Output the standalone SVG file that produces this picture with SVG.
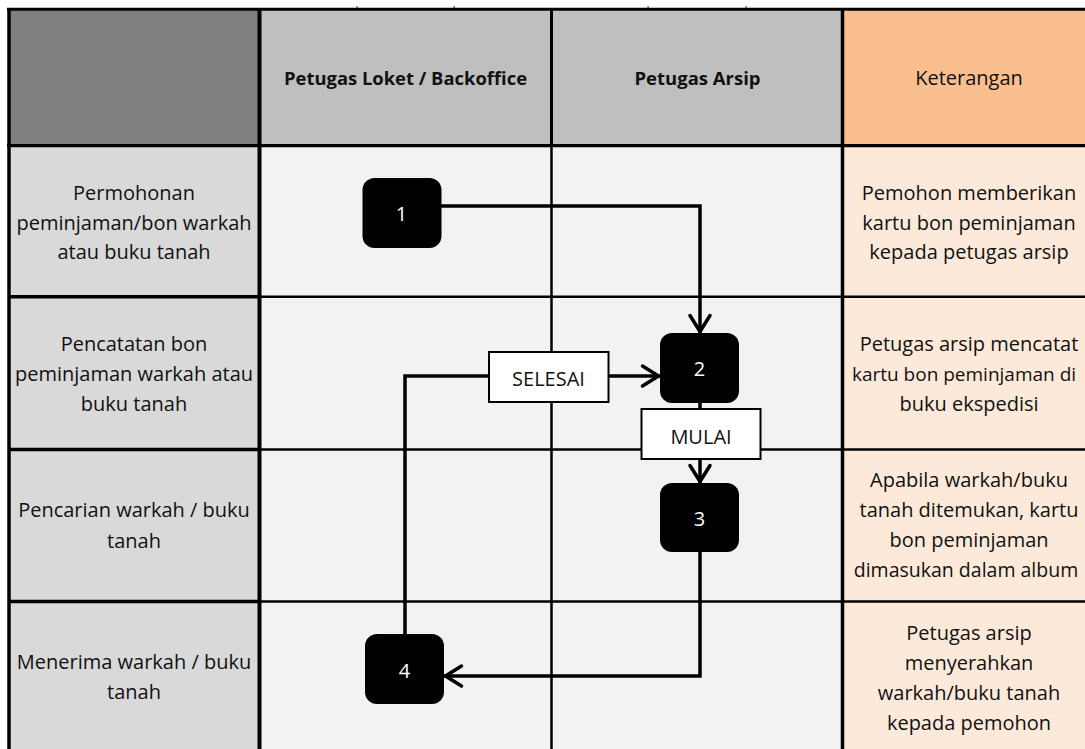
<svg xmlns="http://www.w3.org/2000/svg" width="1085" height="749" viewBox="0 0 1085 749">
  <defs>
    <style>
      .t{font-family:"Open Sans","Noto Sans","DejaVu Sans",sans-serif;font-size:20px;fill:#111;text-anchor:middle}
      .h{font-weight:bold;font-size:18px}
      .w{fill:#fff}
      .node{fill:#000}
      .conn{fill:none;stroke:#000;stroke-width:3.5;stroke-linejoin:miter}
      .lbl{fill:#fff;stroke:#000;stroke-width:2}
      .thick{stroke:#000;stroke-width:3.5}
      .thin{stroke:#000;stroke-width:2.5}
    </style>
    <marker id="arrow" markerUnits="userSpaceOnUse" markerWidth="30" markerHeight="30" viewBox="0 0 30 30" refX="18.5" refY="12" orient="auto" overflow="visible">
      <path d="M1,2 L17,12 L1,22" fill="none" stroke="#000" stroke-width="3.5" stroke-linejoin="round" stroke-linecap="round"/>
    </marker>
  </defs>

  <rect width="1085" height="749" fill="#fff"/>

  <!-- table cells -->
  <g id="grid">
    <rect x="9" y="9" width="250.5" height="136.7" fill="#808080"/>
    <rect x="259.5" y="9" width="583" height="136.7" fill="#BFBFBF"/>
    <rect x="842.5" y="9" width="250" height="136.7" fill="#FABF8F"/>
    <rect x="9" y="145.7" width="250.5" height="610" fill="#D9D9D9"/>
    <rect x="259.5" y="145.7" width="583" height="610" fill="#F2F2F2"/>
    <rect x="842.5" y="145.7" width="250" height="610" fill="#FDE9D9"/>

    <!-- small column marks above the frame -->
    <g fill="#555">
      <rect x="356.5" y="6" width="1.2" height="2.5"/>
      <rect x="453.5" y="6" width="1.2" height="2.5"/>
      <rect x="647.5" y="6" width="1.2" height="2.5"/>
      <rect x="745.5" y="6" width="1.2" height="2.5"/>
    </g>

    <!-- rules -->
    <line x1="7" y1="9.3" x2="1085" y2="9.3" stroke="#000" stroke-width="3"/>
    <line x1="9" y1="8" x2="9" y2="749" class="thick"/>
    <line x1="7" y1="145.7" x2="1085" y2="145.7" stroke="#000" stroke-width="3.3"/>
    <line x1="259.5" y1="8" x2="259.5" y2="749" stroke="#000" stroke-width="4"/>
    <line x1="551.5" y1="8" x2="551.5" y2="145.7" stroke="#000" stroke-width="3"/>
    <line x1="551.5" y1="145.7" x2="551.5" y2="749" class="thin"/>
    <line x1="842.5" y1="8" x2="842.5" y2="749" class="thick"/>

    <line x1="9" y1="296.7" x2="259.5" y2="296.7" class="thick"/>
    <line x1="259.5" y1="296.7" x2="1085" y2="296.7" class="thin"/>
    <line x1="9" y1="449.5" x2="259.5" y2="449.5" class="thick"/>
    <line x1="259.5" y1="449.5" x2="1085" y2="449.5" class="thin"/>
    <line x1="9" y1="601.5" x2="259.5" y2="601.5" class="thick"/>
    <line x1="259.5" y1="601.5" x2="1085" y2="601.5" class="thin"/>
  </g>

  <!-- column headers -->
  <g id="headers">
    <text class="t h" x="405.5" y="85" textLength="243" lengthAdjust="spacingAndGlyphs">Petugas Loket / Backoffice</text>
    <text class="t h" x="697.5" y="85" textLength="126" lengthAdjust="spacingAndGlyphs">Petugas Arsip</text>
    <text class="t" x="969" y="85">Keterangan</text>
  </g>

  <!-- step descriptions, left column -->
  <g id="steps">
    <text class="t" x="134" y="200">Permohonan</text>
    <text class="t" x="134" y="229.5">peminjaman/bon warkah</text>
    <text class="t" x="134" y="259">atau buku tanah</text>

    <text class="t" x="134" y="351">Pencatatan bon</text>
    <text class="t" x="134" y="381">peminjaman warkah atau</text>
    <text class="t" x="134" y="411">buku tanah</text>

    <text class="t" x="134" y="517">Pencarian warkah / buku</text>
    <text class="t" x="134" y="548">tanah</text>

    <text class="t" x="134" y="669">Menerima warkah / buku</text>
    <text class="t" x="134" y="699">tanah</text>
  </g>

  <!-- notes, right column -->
  <g id="notes">
    <text class="t" x="969" y="200">Pemohon memberikan</text>
    <text class="t" x="969" y="229.5">kartu bon peminjaman</text>
    <text class="t" x="969" y="259">kepada petugas arsip</text>

    <text class="t" x="969" y="351">Petugas arsip mencatat</text>
    <text class="t" x="964" y="381" style="font-size:19px">kartu bon peminjaman di</text>
    <text class="t" x="969" y="411">buku ekspedisi</text>

    <text class="t" x="969" y="487">Apabila warkah/buku</text>
    <text class="t" x="969" y="517">tanah ditemukan, kartu</text>
    <text class="t" x="969" y="547">bon peminjaman</text>
    <text class="t" x="966" y="577" style="font-size:19.5px">dimasukan dalam album</text>

    <text class="t" x="969" y="640">Petugas arsip</text>
    <text class="t" x="969" y="669.5">menyerahkan</text>
    <text class="t" x="969" y="699.5">warkah/buku tanah</text>
    <text class="t" x="969" y="729.5">kepada pemohon</text>
  </g>

  <!-- flow connectors -->
  <g id="connectors">
    <path class="conn" d="M441,206 H700 V333" marker-end="url(#arrow)"/>
    <path class="conn" d="M700,403 V483" marker-end="url(#arrow)"/>
    <path class="conn" d="M700,552 V676 H444" marker-end="url(#arrow)"/>
    <path class="conn" d="M405,634 V376 H660" marker-end="url(#arrow)"/>
  </g>

  <!-- connector labels -->
  <g id="label-selesai">
    <rect class="lbl" x="489" y="352" width="119.5" height="50"/>
    <text class="t" x="548.5" y="386">SELESAI</text>
  </g>
  <g id="label-mulai">
    <rect class="lbl" x="641.5" y="409" width="119" height="50"/>
    <text class="t" x="701" y="444">MULAI</text>
  </g>

  <!-- process steps -->
  <g id="node-1">
    <rect class="node" x="362.5" y="178" width="79" height="70" rx="12"/>
    <text class="t w" x="401.5" y="221">1</text>
  </g>
  <g id="node-2">
    <rect class="node" x="660" y="333" width="79" height="70" rx="12"/>
    <text class="t w" x="699.5" y="376">2</text>
  </g>
  <g id="node-3">
    <rect class="node" x="660" y="483" width="79" height="69" rx="12"/>
    <text class="t w" x="699.5" y="526">3</text>
  </g>
  <g id="node-4">
    <rect class="node" x="365" y="634" width="79" height="70" rx="12"/>
    <text class="t w" x="404.5" y="678">4</text>
  </g>
</svg>
